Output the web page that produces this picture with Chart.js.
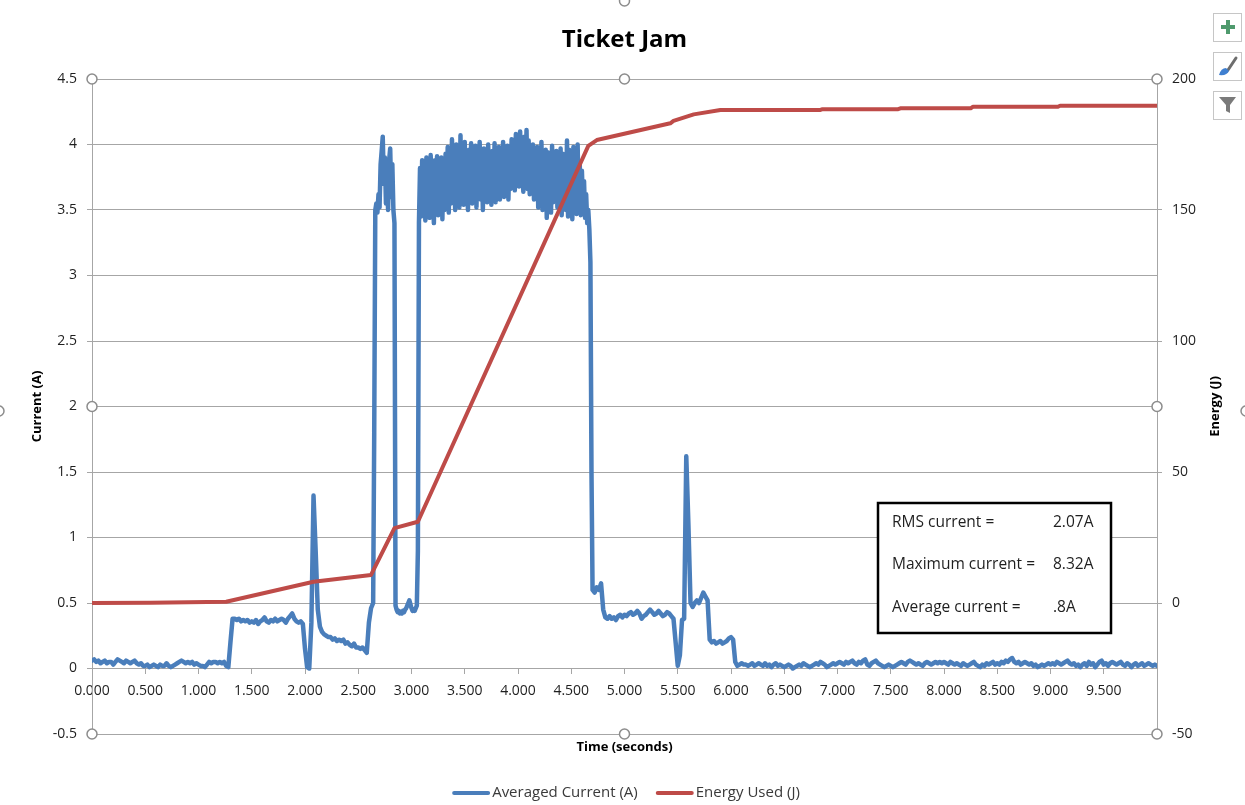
<!DOCTYPE html>
<html>
<head>
<meta charset="utf-8">
<title>Ticket Jam</title>
<script src="https://cdn.jsdelivr.net/npm/chart.js@4.4.1/dist/chart.umd.min.js"></script>
<style>
  html, body { margin: 0; padding: 0; background: #ffffff; }
  #wrap { width: 1245px; height: 805px; position: relative; }
</style>
</head>
<body>
<div id="wrap"><canvas id="chart" width="1245" height="805"></canvas></div>
<script>
// ---- data -------------------------------------------------------------
const chartTitle = 'Ticket Jam';
const xTitle = 'Time (seconds)';
const yTitle = 'Current (A)';
const y2Title = 'Energy (J)';
const currentLabel = 'Averaged Current (A)';
const energyLabel = 'Energy Used (J)';

// averaged current (A) is logged in three runs:
// idle/feed phase 0.00-2.62 s every 0.02 s
const currentStart = 0;
const currentStartStep = 0.02;
const currentIdle = [
  0.06,0.07,0.05,0.06,0.04,0.05,0.06,0.04,0.05,0.05,0.03,0.05,0.07,0.06,0.05,0.04,0.06,0.05,0.04,0.05,0.06,0.04,0.03,0.04,0.02,
  0.02,0.03,0.01,0.02,0.03,0.02,0.01,0.03,0.02,0.02,0.04,0.02,0.01,0.02,0.03,0.04,0.05,0.06,0.05,0.04,0.05,0.04,0.05,0.03,0.04,
  0.03,0.02,0.02,0.01,0.03,0.05,0.04,0.05,0.05,0.04,0.05,0.04,0.05,0.02,0.01,0.20,0.38,0.38,0.37,0.38,0.36,0.37,0.36,0.37,0.35,
  0.36,0.35,0.37,0.34,0.36,0.37,0.39,0.36,0.35,0.37,0.36,0.38,0.36,0.37,0.38,0.37,0.35,0.38,0.40,0.42,0.38,0.36,0.35,0.36,0.34,
  0.15,0.01,0.00,0.35,1.32,0.90,0.45,0.32,0.28,0.26,0.25,0.24,0.24,0.22,0.23,0.21,0.22,0.21,0.22,0.19,0.20,0.18,0.17,0.19,0.16,
  0.16,0.15,0.16,0.14,0.12,0.35,0.46
];
// jam phase 2.64-4.70 s every 0.01 s
const jamStart = 2.64;
const jamStep = 0.01;
const currentJam = [
  0.50,1.80,3.50,3.55,3.48,3.62,3.52,3.85,3.95,4.06,3.70,3.90,3.55,3.80,3.50,3.88,3.97,3.60,3.85,3.50,3.40,
  0.48,0.45,0.43,0.44,0.42,0.43,0.42,0.44,0.43,0.45,0.46,0.48,0.50,0.52,0.49,0.46,0.44,0.45,0.44,0.46,0.48,0.90,
  3.40,3.82,3.45,3.88,3.50,3.78,3.42,3.90,3.55,3.85,
  3.44,3.92,3.60,3.80,3.40,3.88,3.52,3.91,3.46,3.84,
  3.58,3.90,3.43,3.86,3.50,3.93,3.62,3.98,3.48,3.95,
  3.55,4.04,3.60,3.92,3.50,4.00,3.66,3.94,3.52,4.07,
  3.58,3.98,3.54,4.02,3.62,3.90,3.50,3.96,3.70,4.01,
  3.55,3.88,3.62,3.99,3.52,3.93,3.66,4.02,3.58,3.90,
  3.50,3.97,3.64,3.92,3.56,4.00,3.70,3.89,3.54,3.95,
  3.62,4.01,3.56,3.91,3.68,3.98,3.58,3.94,3.63,4.02,
  3.60,3.90,3.72,3.99,3.58,3.95,3.66,4.04,3.70,3.97,
  3.65,4.08,3.74,4.02,3.68,4.10,3.72,3.98,3.64,4.06,
  3.70,4.11,3.66,4.03,3.62,3.96,3.74,4.00,3.58,3.94,
  3.62,3.98,3.52,3.92,3.66,4.02,3.50,3.90,3.58,3.96,
  3.44,3.94,3.60,3.88,3.48,3.99,3.56,3.92,3.62,3.95,
  3.52,3.90,3.58,3.97,3.46,3.93,3.60,3.88,3.50,4.03,
  3.45,3.96,3.55,3.90,3.43,3.98,3.52,3.86,3.47,4.00,
  3.50,3.84,3.46,3.80,3.55,3.72,3.44,3.62,3.40,3.50,
  3.35,3.10,1.50,0.60
];
// release/settle phase 4.72-10.00 s every 0.02 s
const releaseStart = 4.72;
const releaseStep = 0.02;
const currentRelease = [
  0.58,0.62,0.60,0.65,0.45,0.39,0.38,0.40,0.38,0.39,0.37,0.40,0.41,0.39,
  0.41,0.40,0.42,0.43,0.41,0.42,0.44,0.42,0.38,0.40,0.41,0.43,0.45,0.43,0.41,0.42,0.44,0.42,0.40,0.41,0.43,0.42,0.40,0.38,0.20,
  0.02,0.10,0.37,0.38,1.62,1.10,0.50,0.47,0.50,0.52,0.50,0.54,0.58,0.55,0.52,0.22,0.20,0.21,0.19,0.20,0.21,0.19,0.20,0.21,0.23,
  0.24,0.22,0.05,0.02,0.03,0.04,0.03,0.03,0.02,0.03,0.04,0.02,0.03,0.04,0.03,0.02,0.04,0.02,0.03,0.01,0.03,0.04,0.02,0.03,0.02,
  0.01,0.02,0.03,0.02,0.00,0.01,0.02,0.03,0.02,0.04,0.03,0.02,0.01,0.02,0.03,0.04,0.03,0.05,0.04,0.03,0.01,0.02,0.03,0.04,0.03,
  0.04,0.05,0.04,0.03,0.05,0.04,0.05,0.06,0.04,0.03,0.05,0.04,0.06,0.07,0.03,0.02,0.04,0.05,0.06,0.04,0.03,0.02,0.01,0.02,0.03,
  0.02,0.01,0.02,0.03,0.04,0.05,0.04,0.03,0.05,0.06,0.05,0.04,0.03,0.04,0.03,0.02,0.04,0.05,0.04,0.03,0.04,0.05,0.04,0.05,0.04,
  0.05,0.04,0.03,0.05,0.04,0.03,0.04,0.03,0.02,0.04,0.03,0.02,0.03,0.04,0.05,0.03,0.02,0.01,0.03,0.02,0.04,0.03,0.04,0.05,0.03,
  0.04,0.03,0.05,0.04,0.06,0.05,0.07,0.08,0.05,0.04,0.05,0.03,0.04,0.05,0.04,0.03,0.04,0.02,0.03,0.01,0.02,0.03,0.02,0.03,0.04,
  0.03,0.04,0.03,0.05,0.04,0.03,0.04,0.05,0.06,0.04,0.03,0.04,0.02,0.03,0.01,0.03,0.04,0.02,0.05,0.03,0.04,0.01,0.03,0.05,0.06,
  0.03,0.04,0.02,0.04,0.05,0.04,0.03,0.04,0.05,0.03,0.02,0.04,0.03,0.01,0.03,0.04,0.02,0.03,0.04,0.02,0.03,0.04,0.03,0.02,0.03,
  0.02
];

// cumulative energy (J) at its break points (s)
const energyTime = [0, 0.55, 1.26, 2.08, 2.62, 2.84, 3.06, 4.66, 4.74, 5.43, 5.46, 5.65, 5.90, 6.84, 6.86, 7.57, 7.59, 8.25, 8.27, 9.07, 9.09, 10.0];
const energyJ    = [0, 0.1,  0.5,  8.1,  10.7, 28.6, 31.0, 174.5, 176.7, 183.1, 184.0, 186.5, 188.2, 188.2, 188.5, 188.5, 188.8, 188.8, 189.4, 189.4, 189.8, 189.8];

// summary box
const statNames  = ['RMS current =', 'Maximum current =', 'Average current ='];
const statValues = ['2.07A', '8.32A', '.8A'];

// ---- styling --------------------------------------------------------
const BLUE = '#4A7EBB';
const RED = '#BE4B48';
const GRID = '#A6A6A6';
const TEXT = '#1f1f1f';
const FONT = '"Open Sans", "Liberation Sans", sans-serif';

function run(values, start, step) {
  return values.map((v, i) => ({ x: +(start + i * step).toFixed(2), y: v }));
}
const currentPoints = [
  ...run(currentIdle, currentStart, currentStartStep),
  ...run(currentJam, jamStart, jamStep),
  ...run(currentRelease, releaseStart, releaseStep)
];
const energyPoints = energyTime.map((t, i) => ({ x: t, y: energyJ[i] }));

// selection handles, legend, titles and the summary box
const overlay = {
  id: 'overlay',
  afterDraw(chart) {
    const ctx = chart.ctx;
    const a = chart.chartArea;
    const cx = (a.left + a.right) / 2;
    const cy = (a.top + a.bottom) / 2;
    ctx.save();

    // chart title
    ctx.fillStyle = '#000';
    ctx.textAlign = 'center';
    ctx.textBaseline = 'middle';
    ctx.font = 'bold 24px ' + FONT;
    ctx.fillText(chartTitle, cx, 40);

    // axis titles
    ctx.font = 'bold 13px ' + FONT;
    ctx.fillText(xTitle, cx, 747);
    ctx.save();
    ctx.translate(37, cy);
    ctx.rotate(-Math.PI / 2);
    ctx.fillText(yTitle, 0, 0);
    ctx.restore();
    ctx.save();
    ctx.translate(1215, cy);
    ctx.rotate(-Math.PI / 2);
    ctx.fillText(y2Title, 0, 0);
    ctx.restore();

    // legend
    ctx.font = '15px ' + FONT;
    ctx.textAlign = 'left';
    const w1 = ctx.measureText(currentLabel).width;
    const w2 = ctx.measureText(energyLabel).width;
    const sample = 34, gap = 4, between = 20;
    const total = sample + gap + w1 + between + sample + gap + w2;
    let lx = 627 - total / 2;
    const ly = 793;
    ctx.lineWidth = 4;
    ctx.lineCap = 'round';
    ctx.strokeStyle = BLUE;
    ctx.beginPath(); ctx.moveTo(lx, ly); ctx.lineTo(lx + sample, ly); ctx.stroke();
    ctx.fillStyle = '#3a3a3a';
    ctx.fillText(currentLabel, lx + sample + gap, ly);
    lx += sample + gap + w1 + between;
    ctx.strokeStyle = RED;
    ctx.beginPath(); ctx.moveTo(lx, ly); ctx.lineTo(lx + sample, ly); ctx.stroke();
    ctx.fillText(energyLabel, lx + sample + gap, ly);

    // summary box
    ctx.fillStyle = '#fff';
    ctx.fillRect(878, 503, 233, 130);
    ctx.strokeStyle = '#000';
    ctx.lineWidth = 2.5;
    ctx.strokeRect(878, 503, 233, 130);
    ctx.fillStyle = TEXT;
    ctx.font = '15.5px ' + FONT;
    const rows = [523, 565, 608];
    statNames.forEach((n, i) => {
      ctx.fillText(n, 892, rows[i]);
      ctx.fillText(statValues[i], 1053, rows[i]);
    });

    // selection handles on the plot area and the chart border
    const handles = [
      [a.left, a.top], [cx, a.top], [a.right, a.top],
      [a.left, cy], [a.right, cy],
      [a.left, a.bottom], [cx, a.bottom], [a.right, a.bottom],
      [cx, 1], [-1, 411], [1246, 411]
    ];
    ctx.lineWidth = 1.5;
    ctx.strokeStyle = '#8c8c8c';
    ctx.fillStyle = '#fff';
    handles.forEach(([hx, hy]) => {
      ctx.beginPath();
      ctx.arc(hx, hy, 5, 0, Math.PI * 2);
      ctx.fill();
      ctx.stroke();
    });

    // chart tool buttons
    const btns = [13, 52, 91];
    ctx.lineWidth = 1;
    ctx.strokeStyle = '#c6c6c6';
    btns.forEach(by => {
      ctx.fillStyle = '#fff';
      ctx.fillRect(1213.5, by + 0.5, 28, 28);
      ctx.strokeRect(1213.5, by + 0.5, 28, 28);
    });
    // plus
    ctx.fillStyle = '#4f9a6d';
    ctx.fillRect(1221, 25, 14, 4);
    ctx.fillRect(1226, 20, 4, 14);
    // brush
    ctx.strokeStyle = '#6d6d6d';
    ctx.lineWidth = 3;
    ctx.lineCap = 'round';
    ctx.beginPath(); ctx.moveTo(1228, 70); ctx.lineTo(1236, 58); ctx.stroke();
    ctx.fillStyle = '#3f7fd0';
    ctx.beginPath();
    ctx.moveTo(1219, 75); ctx.quadraticCurveTo(1221, 68, 1226, 68);
    ctx.lineTo(1229, 71); ctx.quadraticCurveTo(1227, 76, 1219, 75);
    ctx.fill();
    // funnel
    ctx.fillStyle = '#7a7a7a';
    ctx.beginPath();
    ctx.moveTo(1219, 97); ctx.lineTo(1236, 97); ctx.lineTo(1230, 105);
    ctx.lineTo(1230, 113); ctx.lineTo(1226, 111); ctx.lineTo(1226, 105);
    ctx.closePath();
    ctx.fill();

    ctx.restore();
  }
};

new Chart(document.getElementById('chart'), {
  type: 'line',
  data: {
    datasets: [
      {
        label: currentLabel,
        data: currentPoints,
        yAxisID: 'y',
        borderColor: BLUE,
        backgroundColor: BLUE,
        borderWidth: 4.5,
        pointRadius: 0,
        tension: 0,
        borderJoinStyle: 'round',
        borderCapStyle: 'round',
        order: 2
      },
      {
        label: energyLabel,
        data: energyPoints,
        yAxisID: 'y1',
        borderColor: RED,
        backgroundColor: RED,
        borderWidth: 4,
        pointRadius: 0,
        tension: 0,
        borderJoinStyle: 'round',
        borderCapStyle: 'round',
        order: 1
      }
    ]
  },
  options: {
    responsive: false,
    animation: false,
    devicePixelRatio: 1,
    layout: { padding: { top: 79, bottom: 71, left: 0, right: 0 } },
    plugins: {
      legend: { display: false },
      title: { display: false },
      tooltip: { enabled: false }
    },
    scales: {
      x: {
        type: 'linear',
        position: { y: 0 },
        min: 0,
        max: 10,
        afterBuildTicks(scale) {
          scale.ticks = scale.ticks.filter(t => t.value < 9.75);
        },
        ticks: {
          stepSize: 0.5,
          autoSkip: false,
          maxRotation: 0,
          padding: 9,
          color: TEXT,
          font: { family: FONT, size: 14 },
          callback: v => Number(v).toFixed(3)
        },
        grid: { drawOnChartArea: false, drawTicks: true, tickLength: 5, color: GRID },
        border: { display: true, color: GRID, width: 1 }
      },
      y: {
        position: 'left',
        min: -0.5,
        max: 4.5,
        afterFit(scale) { scale.width = 92; },
        ticks: {
          stepSize: 0.5,
          padding: 10,
          color: TEXT,
          font: { family: FONT, size: 14 },
          callback: v => String(+Number(v).toFixed(1))
        },
        grid: { color: GRID, tickLength: 5, lineWidth: 1 },
        border: { display: true, color: GRID, width: 1 }
      },
      y1: {
        position: 'right',
        min: -50,
        max: 200,
        afterFit(scale) { scale.width = 88; },
        ticks: {
          stepSize: 50,
          padding: 10,
          color: TEXT,
          font: { family: FONT, size: 14 }
        },
        grid: { drawOnChartArea: false, color: GRID, tickLength: 5 },
        border: { display: true, color: GRID, width: 1 }
      }
    }
  },
  plugins: [overlay]
});
</script>
</body>
</html>
